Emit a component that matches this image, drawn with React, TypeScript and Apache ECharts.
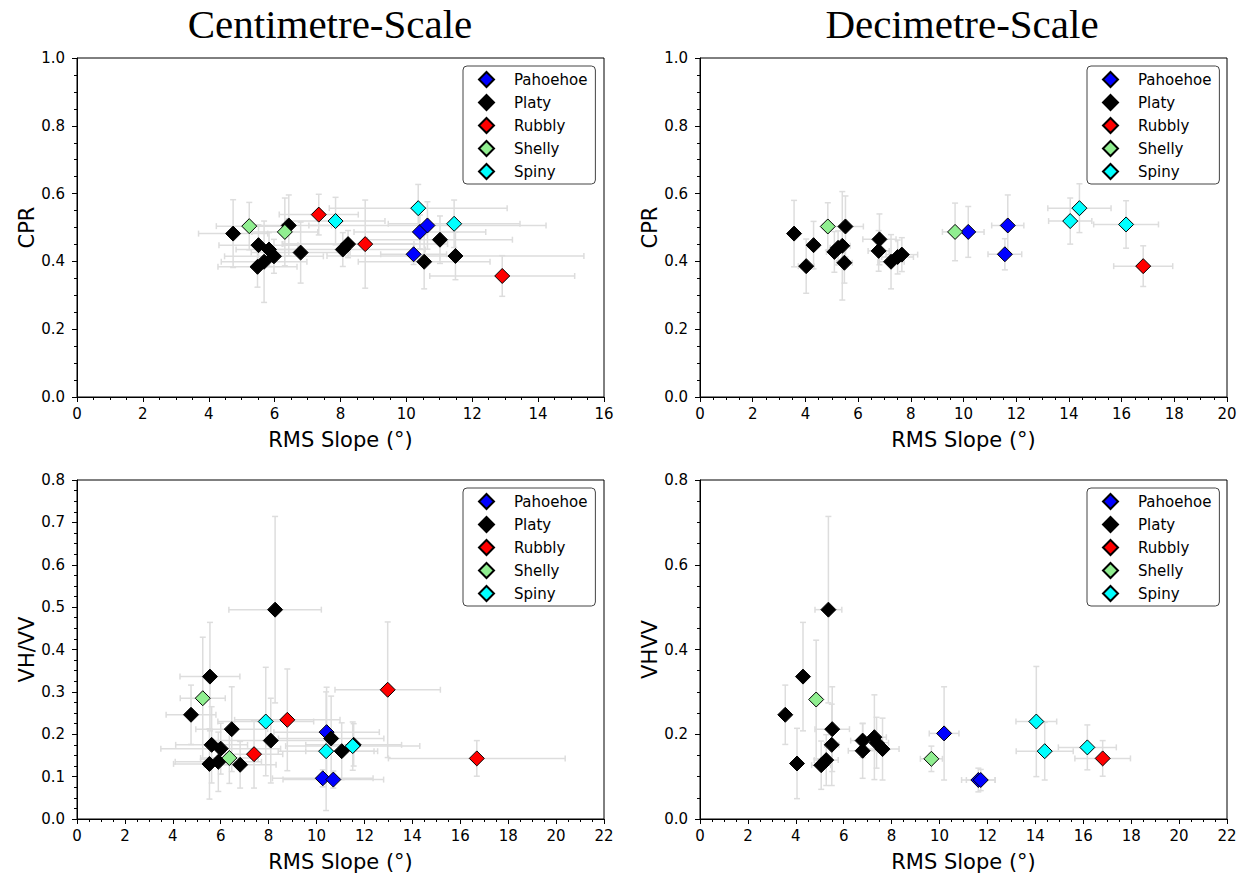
import React, { useEffect, useRef } from "react";
import * as echarts from "echarts";

// ---- Data: [RMS slope, value, x error, y error] ----
const CLASS_NAMES = ["Pahoehoe", "Platy", "Rubbly", "Shelly", "Spiny"];
const CLASS_COLORS = ["#0000ff", "#000000", "#ff0000", "#90ee90", "#00ffff"];

// Centimetre-scale CPR
const CM_CPR_PAHOEHOE = [[10.22, 0.421, 1.0, 0.03], [10.41, 0.487, 2.0, 0.05], [10.64, 0.506, 3.6, 0.07]];
const CM_CPR_PLATY = [
  [4.74, 0.482, 1.05, 0.1], [5.51, 0.448, 1.2, 0.06], [5.48, 0.384, 1.2, 0.06], [5.68, 0.399, 1.3, 0.12],
  [5.83, 0.435, 1.0, 0.05], [5.98, 0.415, 1.5, 0.05], [6.43, 0.506, 1.3, 0.09], [6.79, 0.426, 1.5, 0.09],
  [8.07, 0.435, 2.5, 0.05], [8.23, 0.451, 2.0, 0.04], [10.54, 0.399, 2.0, 0.08], [11.02, 0.464, 2.2, 0.07],
  [11.49, 0.416, 3.9, 0.07],
];
const CM_CPR_RUBBLY = [[7.34, 0.538, 1.2, 0.06], [8.75, 0.451, 2.5, 0.13], [12.91, 0.357, 2.2, 0.06]];
const CM_CPR_SHELLY = [[5.23, 0.504, 1.0, 0.07], [6.31, 0.487, 1.0, 0.1]];
const CM_CPR_SPINY = [[7.85, 0.519, 1.5, 0.07], [10.36, 0.557, 2.7, 0.07], [11.45, 0.511, 2.0, 0.07]];

// Decimetre-scale CPR
const DM_CPR_PAHOEHOE = [[10.18, 0.487, 0.6, 0.075], [11.68, 0.506, 0.61, 0.09], [11.57, 0.421, 0.64, 0.046]];
const DM_CPR_PLATY = [
  [3.57, 0.482, 0.1, 0.098], [4.31, 0.448, 0.2, 0.07], [4.03, 0.386, 0.3, 0.08], [5.52, 0.503, 0.68, 0.09],
  [5.4, 0.446, 0.3, 0.16], [5.1, 0.428, 0.3, 0.06], [5.24, 0.44, 0.3, 0.05], [5.48, 0.396, 0.3, 0.06],
  [6.81, 0.465, 0.63, 0.075], [6.78, 0.431, 0.4, 0.06], [7.25, 0.399, 0.5, 0.08], [7.5, 0.413, 0.6, 0.05],
  [7.66, 0.42, 0.6, 0.05],
];
const DM_CPR_RUBBLY = [[16.82, 0.386, 1.12, 0.06]];
const DM_CPR_SHELLY = [[4.85, 0.503, 0.2, 0.07], [9.68, 0.487, 0.48, 0.085]];
const DM_CPR_SPINY = [[14.4, 0.557, 1.2, 0.072], [14.05, 0.519, 0.82, 0.068], [16.17, 0.509, 1.23, 0.07]];

// Centimetre-scale VH/VV
const CM_VHVV_PAHOEHOE = [[10.42, 0.205, 2.2, 0.106], [10.26, 0.096, 2.1, 0.02], [10.7, 0.093, 2.1, 0.02]];
const CM_VHVV_PLATY = [
  [8.27, 0.494, 1.93, 0.22], [5.55, 0.336, 1.25, 0.128], [4.76, 0.246, 1.04, 0.07], [6.46, 0.212, 1.5, 0.1],
  [8.09, 0.185, 2.5, 0.1], [10.61, 0.19, 2.2, 0.1], [11.05, 0.16, 1.5, 0.067], [11.55, 0.175, 2.0, 0.05],
  [5.62, 0.175, 1.5, 0.09], [6.0, 0.166, 2.5, 0.06], [5.53, 0.13, 1.5, 0.083], [5.9, 0.135, 1.8, 0.07],
  [6.81, 0.128, 1.5, 0.055],
];
const CM_VHVV_RUBBLY = [[7.39, 0.153, 1.2, 0.08], [8.78, 0.234, 2.2, 0.12], [12.97, 0.305, 2.2, 0.16], [16.69, 0.143, 3.69, 0.042]];
const CM_VHVV_SHELLY = [[5.25, 0.285, 0.94, 0.144], [6.36, 0.144, 1.2, 0.06]];
const CM_VHVV_SPINY = [[7.88, 0.23, 2.0, 0.128], [11.51, 0.172, 2.8, 0.057], [10.4, 0.16, 2.0, 0.14]];

// Decimetre-scale VH/VV
const DM_VHVV_PAHOEHOE = [[10.19, 0.202, 0.62, 0.11], [11.62, 0.092, 0.7, 0.028], [11.72, 0.092, 0.6, 0.025]];
const DM_VHVV_PLATY = [
  [5.36, 0.494, 0.56, 0.22], [4.3, 0.336, 0.1, 0.128], [3.56, 0.246, 0.1, 0.07], [5.52, 0.212, 0.72, 0.1],
  [5.5, 0.175, 0.3, 0.096], [4.05, 0.131, 0.1, 0.083], [5.06, 0.127, 0.4, 0.057], [5.27, 0.139, 0.5, 0.06],
  [6.79, 0.185, 0.5, 0.04], [6.79, 0.161, 0.6, 0.065], [7.28, 0.193, 0.5, 0.1], [7.37, 0.18, 0.5, 0.06],
  [7.62, 0.165, 0.69, 0.073],
];
const DM_VHVV_RUBBLY = [[16.81, 0.143, 1.16, 0.042]];
const DM_VHVV_SHELLY = [[4.85, 0.282, 0.2, 0.14], [9.66, 0.142, 0.46, 0.03]];
const DM_VHVV_SPINY = [[14.04, 0.23, 0.85, 0.13], [14.39, 0.16, 1.19, 0.068], [16.17, 0.169, 1.21, 0.053]];

const PANEL_DATA = [
  [CM_CPR_PAHOEHOE, CM_CPR_PLATY, CM_CPR_RUBBLY, CM_CPR_SHELLY, CM_CPR_SPINY],
  [DM_CPR_PAHOEHOE, DM_CPR_PLATY, DM_CPR_RUBBLY, DM_CPR_SHELLY, DM_CPR_SPINY],
  [CM_VHVV_PAHOEHOE, CM_VHVV_PLATY, CM_VHVV_RUBBLY, CM_VHVV_SHELLY, CM_VHVV_SPINY],
  [DM_VHVV_PAHOEHOE, DM_VHVV_PLATY, DM_VHVV_RUBBLY, DM_VHVV_SHELLY, DM_VHVV_SPINY],
];

const X_MAX = [16, 20, 22, 22];
const Y_MAX = [1.0, 1.0, 0.8, 0.8];
const Y_STEP = [0.2, 0.2, 0.1, 0.2];
const Y_NAMES = ["CPR", "CPR", "VH/VV", "VHVV"];
const X_NAME = "RMS Slope (°)";
const TITLES = ["Centimetre-Scale", "Decimetre-Scale"];

const GRIDS = [
  { left: 77, top: 58, width: 527, height: 339 },
  { left: 700, top: 58, width: 527, height: 339 },
  { left: 77, top: 480, width: 527, height: 339 },
  { left: 700, top: 480, width: 527, height: 339 },
];

const FONT = "DejaVu Sans";

export default function App() {
  const ref = useRef<HTMLDivElement>(null);

  useEffect(() => {
    document.body.style.margin = "0";
    if (!ref.current) return;
    const chart = echarts.init(ref.current, undefined, { renderer: "svg" });

    const grid = GRIDS.map((g) => ({
      ...g,
      show: true,
      borderColor: "#000",
      borderWidth: 1,
      backgroundColor: "transparent",
      containLabel: false,
    }));

    const axisCommon = {
      type: "value" as const,
      axisLine: { show: true, onZero: false, lineStyle: { color: "#000", width: 1 } },
      axisTick: { show: true, inside: false, length: 5, lineStyle: { color: "#000" } },
      minorTick: { show: true, splitNumber: 4, length: 3, lineStyle: { color: "#000" } },
      splitLine: { show: false },
      minorSplitLine: { show: false },
      nameLocation: "middle" as const,
      nameTextStyle: { fontSize: 21, fontFamily: FONT, color: "#000" },
    };

    const xAxis = GRIDS.map((_, i) => ({
      ...axisCommon,
      gridIndex: i,
      min: 0,
      max: X_MAX[i],
      interval: 2,
      name: X_NAME,
      nameGap: 32,
      axisLabel: { fontSize: 15, fontFamily: FONT, color: "#000", margin: 9 },
    }));

    const yAxis = GRIDS.map((_, i) => ({
      ...axisCommon,
      gridIndex: i,
      min: 0,
      max: Y_MAX[i],
      interval: Y_STEP[i],
      name: Y_NAMES[i],
      nameGap: 36,
      axisLabel: {
        fontSize: 15,
        fontFamily: FONT,
        color: "#000",
        margin: 12,
        formatter: (v: number) => v.toFixed(1),
      },
    }));

    const series: any[] = [];
    PANEL_DATA.forEach((panel, pi) => {
      const allErr: number[][] = [];
      panel.forEach((arr) => arr.forEach((d) => allErr.push(d)));
      series.push({
        type: "custom",
        name: "errors" + pi,
        xAxisIndex: pi,
        yAxisIndex: pi,
        z: 1,
        clip: true,
        silent: true,
        encode: { x: 0, y: 1 },
        data: allErr,
        renderItem: (params: any, api: any) => {
          const x = api.value(0);
          const y = api.value(1);
          const xe = api.value(2);
          const ye = api.value(3);
          const l = api.coord([x - xe, y]);
          const r = api.coord([x + xe, y]);
          const t = api.coord([x, y + ye]);
          const b = api.coord([x, y - ye]);
          const cap = 3;
          const style = { stroke: "#dddddd", lineWidth: 1.5, fill: null };
          return {
            type: "group",
            children: [
              { type: "line", shape: { x1: l[0], y1: l[1], x2: r[0], y2: r[1] }, style },
              { type: "line", shape: { x1: t[0], y1: t[1], x2: b[0], y2: b[1] }, style },
              { type: "line", shape: { x1: l[0], y1: l[1] - cap, x2: l[0], y2: l[1] + cap }, style },
              { type: "line", shape: { x1: r[0], y1: r[1] - cap, x2: r[0], y2: r[1] + cap }, style },
              { type: "line", shape: { x1: t[0] - cap, y1: t[1], x2: t[0] + cap, y2: t[1] }, style },
              { type: "line", shape: { x1: b[0] - cap, y1: b[1], x2: b[0] + cap, y2: b[1] }, style },
            ],
          };
        },
      });
      panel.forEach((arr, ci) => {
        series.push({
          type: "scatter",
          name: CLASS_NAMES[ci],
          xAxisIndex: pi,
          yAxisIndex: pi,
          z: 3,
          symbol: "diamond",
          symbolSize: 15,
          itemStyle: { color: CLASS_COLORS[ci], borderColor: "#000", borderWidth: 1, opacity: 1 },
          data: arr.map((d) => [d[0], d[1]]),
        });
      });
    });

    const legendPos = [
      { left: 463, top: 66 },
      { left: 1087, top: 66 },
      { left: 463, top: 488 },
      { left: 1087, top: 488 },
    ];
    const legend = legendPos.map((p) => ({
      ...p,
      orient: "vertical",
      data: CLASS_NAMES,
      selectedMode: false,
      icon: "diamond",
      itemWidth: 15,
      itemHeight: 15,
      itemGap: 6,
      padding: [5, 8, 4, 15],
      borderColor: "#444",
      borderWidth: 1,
      borderRadius: 4,
      backgroundColor: "#fff",
      textStyle: {
        fontSize: 15,
        fontFamily: FONT,
        color: "#000",
        lineHeight: 15,
        padding: [0, 0, 0, 15],
      },
      z: 10,
    }));

    const graphic = [
      {
        type: "text",
        x: 330,
        y: 24,
        style: {
          text: TITLES[0],
          font: "41px 'Liberation Serif'",
          fill: "#000",
          textAlign: "center",
          textVerticalAlign: "middle",
        },
      },
      {
        type: "text",
        x: 962,
        y: 24,
        style: {
          text: TITLES[1],
          font: "41px 'Liberation Serif'",
          fill: "#000",
          textAlign: "center",
          textVerticalAlign: "middle",
        },
      },
    ];

    chart.setOption({
      animation: false,
      backgroundColor: "#fff",
      grid,
      xAxis,
      yAxis,
      legend,
      graphic,
      series,
    });

    return () => chart.dispose();
  }, []);

  return <div ref={ref} style={{ width: 1246, height: 875 }} />;
}
